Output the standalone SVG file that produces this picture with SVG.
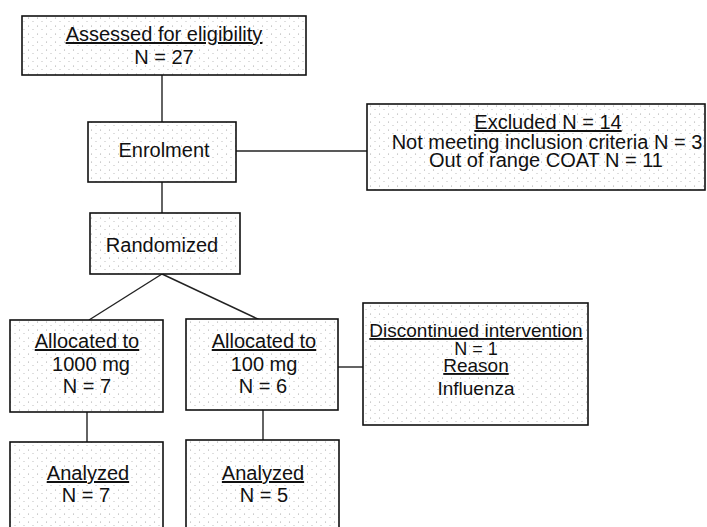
<svg xmlns="http://www.w3.org/2000/svg" width="707" height="527" viewBox="0 0 707 527">
  <style>
    .box { fill: url(#stipple); stroke: #111; stroke-width: 1.6; }
    .t { font-family: "Liberation Sans", Arial, sans-serif; font-size: 20px; fill: #111; text-anchor: middle; }
    .u { text-decoration: underline; }
    .conn line { stroke: #222; stroke-width: 1.4; }
  </style>
  <defs>
    <pattern id="stipple" width="9" height="8" patternUnits="userSpaceOnUse">
      <rect width="9" height="8" fill="#fff"/>
      <circle cx="1.5" cy="2" r="0.55" fill="#9a9a9a"/>
      <circle cx="6" cy="5.5" r="0.5" fill="#a8a8a8"/>
    </pattern>
  </defs>
  <rect width="707" height="527" fill="#fff"/>

  <g class="conn">
    <line x1="162" y1="75" x2="162" y2="122"/>
    <line x1="236" y1="151" x2="367" y2="151"/>
    <line x1="162" y1="182" x2="162" y2="213"/>
    <line x1="162" y1="274" x2="89" y2="320"/>
    <line x1="162" y1="274" x2="260" y2="320"/>
    <line x1="338" y1="367" x2="363" y2="367"/>
    <line x1="87" y1="412" x2="87" y2="442"/>
    <line x1="263" y1="410" x2="263" y2="440"/>
  </g>

  <g id="assessed">
    <rect class="box" x="22" y="16" width="284" height="59"/>
    <text class="t u" x="164" y="41">Assessed for eligibility</text>
    <text class="t" x="164" y="64">N = 27</text>
  </g>

  <g id="enrolment">
    <rect class="box" x="88" y="122" width="148" height="60"/>
    <text class="t" x="164" y="157">Enrolment</text>
  </g>

  <g id="excluded">
    <rect class="box" x="367" y="104" width="338" height="86"/>
    <text class="t u" x="548" y="129">Excluded N = 14</text>
    <text class="t" x="547" y="149">Not meeting inclusion criteria N = 3</text>
    <text class="t" x="546" y="167">Out of range COAT N = 11</text>
  </g>

  <g id="randomized">
    <rect class="box" x="90" y="213" width="150" height="61"/>
    <text class="t" x="162" y="252">Randomized</text>
  </g>

  <g id="alloc1000">
    <rect class="box" x="10" y="320" width="153" height="92"/>
    <text class="t u" x="87" y="348">Allocated to</text>
    <text class="t" x="91" y="371">1000 mg</text>
    <text class="t" x="87" y="393">N = 7</text>
  </g>

  <g id="alloc100">
    <rect class="box" x="186" y="319" width="152" height="91"/>
    <text class="t u" x="264" y="348">Allocated to</text>
    <text class="t" x="264" y="371">100 mg</text>
    <text class="t" x="263" y="393">N = 6</text>
  </g>

  <g id="discontinued">
    <rect class="box" x="363" y="303" width="225" height="122"/>
    <text class="t u" x="476" y="337" style="font-size:19px">Discontinued intervention</text>
    <text class="t" x="476" y="355" style="font-size:18px">N = 1</text>
    <text class="t u" x="476" y="372" style="font-size:19px">Reason</text>
    <text class="t" x="476" y="395" style="font-size:19px">Influenza</text>
  </g>

  <g id="analyzed1000">
    <rect class="box" x="10" y="442" width="153" height="95"/>
    <text class="t u" x="88" y="480">Analyzed</text>
    <text class="t" x="86" y="502">N = 7</text>
  </g>

  <g id="analyzed100">
    <rect class="box" x="186" y="440" width="153" height="97"/>
    <text class="t u" x="263" y="480">Analyzed</text>
    <text class="t" x="264" y="502">N = 5</text>
  </g>
</svg>
